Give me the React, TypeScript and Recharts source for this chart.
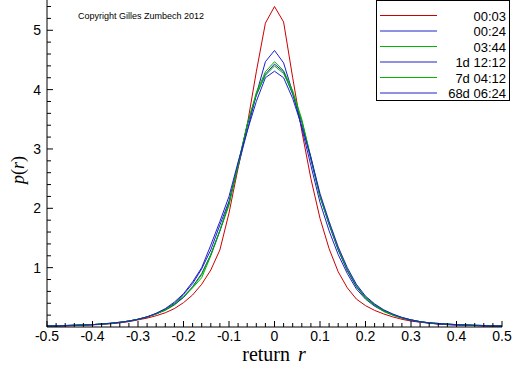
import React from 'react';
import { LineChart, Line, XAxis, YAxis, Legend } from 'recharts';

const returns = [
  -0.5, -0.48, -0.46, -0.44, -0.42, -0.4, -0.38, -0.36, -0.34, -0.32, -0.3, -0.28, -0.26,
  -0.24, -0.22, -0.2, -0.18, -0.16, -0.14, -0.12, -0.1, -0.08, -0.06, -0.04, -0.02, 0,
  0.02, 0.04, 0.06, 0.08, 0.1, 0.12, 0.14, 0.16, 0.18, 0.2, 0.22, 0.24, 0.26, 0.28, 0.3,
  0.32, 0.34, 0.36, 0.38, 0.4, 0.42, 0.44, 0.46, 0.48, 0.5,
];

const s0003 = [
  0.01, 0.015, 0.02, 0.025, 0.03, 0.035, 0.045, 0.055, 0.07, 0.09, 0.12, 0.15, 0.19, 0.24, 0.31, 0.41, 0.54, 0.72, 0.96, 1.3, 1.92, 2.68, 3.4, 4.3, 5.12,
  5.4,
  5.14, 4.2, 3.3, 2.5, 1.83, 1.32, 0.93, 0.66, 0.47, 0.36, 0.28, 0.22, 0.17, 0.13, 0.1, 0.08, 0.065, 0.05, 0.04, 0.035, 0.03, 0.025, 0.02, 0.015, 0.01,
];
const s0024 = [
  0.02, 0.02, 0.025, 0.03, 0.035, 0.04, 0.05, 0.06, 0.08, 0.1, 0.13, 0.17, 0.23, 0.3, 0.4, 0.55, 0.73, 0.98, 1.3, 1.72, 2.12, 2.7, 3.3, 3.92, 4.47,
  4.66,
  4.45, 3.95, 3.35, 2.72, 2.1, 1.62, 1.22, 0.9, 0.64, 0.47, 0.35, 0.27, 0.2, 0.15, 0.11, 0.085, 0.065, 0.05, 0.04, 0.035, 0.03, 0.025, 0.02, 0.02, 0.015,
];
const s0344 = [
  0.02, 0.02, 0.025, 0.03, 0.035, 0.04, 0.05, 0.065, 0.08, 0.1, 0.13, 0.17, 0.22, 0.28, 0.37, 0.5, 0.66, 0.83, 1.2, 1.62, 2.05, 2.72, 3.4, 3.95, 4.3,
  4.47,
  4.32, 3.98, 3.5, 2.85, 2.2, 1.75, 1.3, 0.95, 0.68, 0.48, 0.36, 0.26, 0.2, 0.15, 0.12, 0.09, 0.07, 0.06, 0.05, 0.04, 0.035, 0.03, 0.025, 0.02, 0.02,
];
const s1d1212 = [
  0.015, 0.02, 0.02, 0.025, 0.03, 0.04, 0.05, 0.06, 0.075, 0.1, 0.13, 0.17, 0.22, 0.29, 0.38, 0.5, 0.68, 0.9, 1.22, 1.62, 2.1, 2.75, 3.4, 3.9, 4.26,
  4.43,
  4.3, 3.92, 3.45, 2.82, 2.2, 1.72, 1.3, 0.95, 0.68, 0.5, 0.37, 0.28, 0.21, 0.16, 0.12, 0.09, 0.07, 0.055, 0.045, 0.035, 0.03, 0.025, 0.02, 0.02, 0.015,
];
const s7d0412 = [
  0.02, 0.02, 0.025, 0.03, 0.035, 0.04, 0.05, 0.06, 0.08, 0.1, 0.13, 0.17, 0.22, 0.29, 0.39, 0.52, 0.67, 0.88, 1.22, 1.63, 2.08, 2.74, 3.42, 3.92, 4.24,
  4.4,
  4.27, 3.95, 3.47, 2.86, 2.2, 1.74, 1.32, 0.97, 0.7, 0.5, 0.38, 0.28, 0.21, 0.16, 0.12, 0.09, 0.07, 0.06, 0.05, 0.04, 0.035, 0.03, 0.025, 0.02, 0.02,
];
const s68d0624 = [
  0.02, 0.02, 0.025, 0.03, 0.035, 0.04, 0.05, 0.065, 0.08, 0.1, 0.13, 0.17, 0.23, 0.31, 0.42, 0.56, 0.76, 1.0, 1.38, 1.78, 2.2, 2.78, 3.3, 3.8, 4.2,
  4.31,
  4.2, 3.85, 3.38, 2.86, 2.25, 1.78, 1.35, 1.0, 0.72, 0.52, 0.39, 0.29, 0.22, 0.16, 0.12, 0.09, 0.07, 0.06, 0.05, 0.04, 0.035, 0.03, 0.025, 0.02, 0.02,
];

const seriesNames = ['00:03', '00:24', '03:44', '1d 12:12', '7d 04:12', '68d 06:24'];
const seriesValues = [s0003, s0024, s0344, s1d1212, s7d0412, s68d0624];
const seriesColors = ['#cc0000', '#2020c8', '#00b400', '#2020c8', '#00b400', '#2020c8'];

const xMajorTicks = [-0.5, -0.4, -0.3, -0.2, -0.1, 0, 0.1, 0.2, 0.3, 0.4, 0.5];
const yMajorTicks = [1, 2, 3, 4, 5];

const xTicks = Array.from({ length: 51 }, (_, i) => -0.5 + i * 0.02);
const yTicks = Array.from({ length: 28 }, (_, i) => i * 0.2);

const data = returns.map((r, i) => {
  const row: Record<string, number> = { r };
  seriesNames.forEach((n, k) => {
    row[n] = seriesValues[k][i];
  });
  return row;
});

const FONT = '"Liberation Sans", Arial, sans-serif';
const SERIF = '"Liberation Serif", "Times New Roman", serif';

const isMajorX = (v: number) => xMajorTicks.some((t) => Math.abs(t - v) < 1e-6);
const isMajorY = (v: number) => yMajorTicks.some((t) => Math.abs(t - v) < 1e-6);

const XTick = (props: any) => {
  const { x, y, payload } = props;
  const v = payload.value;
  const major = isMajorX(v);
  const label = Math.abs(v) < 1e-9 ? '0' : v.toFixed(1);
  return (
    <g>
      <line x1={x} x2={x} y1={y} y2={y - (major ? 6 : 4)} stroke="#000" strokeWidth={1} />
      {major && (
        <text x={x} y={y + 14} textAnchor="middle" fontSize={14} fontFamily={FONT} fill="#000">
          {label}
        </text>
      )}
    </g>
  );
};

const YTick = (props: any) => {
  const { x, y, payload } = props;
  const v = payload.value;
  const major = isMajorY(v);
  if (v < 1e-6) return <g />;
  return (
    <g>
      <line x1={x} x2={x + (major ? 6 : 4)} y1={y} y2={y} stroke="#000" strokeWidth={1} />
      {major && (
        <text x={x - 6} y={y + 5} textAnchor="end" fontSize={14} fontFamily={FONT} fill="#000">
          {String(Math.round(v))}
        </text>
      )}
    </g>
  );
};

const renderLegend = (props: any) => {
  const payload = [...(props.payload || [])].sort(
    (a: any, b: any) => seriesNames.indexOf(a.value) - seriesNames.indexOf(b.value)
  );
  return (
    <svg width={135} height={102} style={{ display: 'block' }}>
      <rect x={0.5} y={0.5} width={133} height={100} fill="#fff" stroke="#000" strokeWidth={1} />
      {payload.map((e: any, i: number) => {
        const yy = 15.5 + i * 15.5;
        return (
          <g key={i}>
            <line x1={4} x2={61} y1={yy} y2={yy} stroke={e.color} strokeWidth={1} />
            <text x={130} y={yy + 5} textAnchor="end" fontSize={13} fontFamily={FONT} fill="#000">
              {e.value}
            </text>
          </g>
        );
      })}
    </svg>
  );
};

export default function App() {
  return (
    <div style={{ position: 'absolute', left: 0, top: 0, width: 512, height: 366, background: '#fff' }}>
      <LineChart width={512} height={366} data={data} margin={{ top: 0, right: 10, bottom: 0, left: 0 }}>
        <XAxis
          dataKey="r"
          type="number"
          domain={[-0.5, 0.5]}
          ticks={xTicks}
          interval={0}
          tickSize={0}
          tickMargin={0}
          tickLine={false}
          axisLine={{ stroke: '#000', strokeWidth: 1 }}
          tick={<XTick />}
          height={39}
          allowDataOverflow
        />
        <YAxis
          type="number"
          domain={[0, 5.51]}
          ticks={yTicks}
          interval={0}
          tickSize={0}
          tickMargin={0}
          tickLine={false}
          axisLine={{ stroke: '#000', strokeWidth: 1 }}
          tick={<YTick />}
          width={47}
          allowDataOverflow
        />
        {seriesNames.map((n, k) => (
          <Line
            key={n}
            dataKey={n}
            name={n}
            type="linear"
            stroke={seriesColors[k]}
            strokeWidth={1}
            dot={false}
            activeDot={false}
            isAnimationActive={false}
          />
        ))}
        <Legend
          layout="vertical"
          align="center"
          verticalAlign="middle"
          content={renderLegend}
          wrapperStyle={{ position: 'absolute', left: 376, top: 0, width: 135, height: 102 }}
        />
        <text x={78} y={19} fontSize={9} fontFamily={FONT} fill="#000">
          Copyright Gilles Zumbech 2012
        </text>
        <text x={274} y={361} textAnchor="middle" fontSize={20} fontFamily={SERIF} fill="#000">
          <tspan>return </tspan>
          <tspan dx={3} fontStyle="italic">r</tspan>
        </text>
        <text
          x={24}
          y={170}
          textAnchor="middle"
          fontSize={18}
          fontFamily={SERIF}
          fill="#000"
          transform="rotate(-90 24 170)"
        >
          <tspan fontStyle="italic">p</tspan>
          <tspan>(</tspan>
          <tspan fontStyle="italic">r</tspan>
          <tspan>)</tspan>
        </text>
      </LineChart>
    </div>
  );
}
